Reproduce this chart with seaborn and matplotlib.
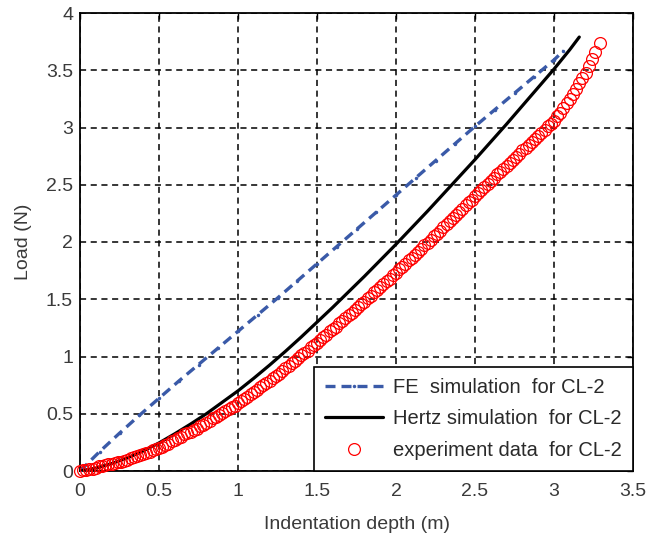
import matplotlib
matplotlib.use("Agg")
import matplotlib.pyplot as plt
import pandas as pd
import seaborn as sns

# FE simulation (load vs. indentation depth)
depth_fe = [0, 0.125, 0.25, 0.375, 0.5, 0.625, 0.75, 0.875, 1.0, 1.125, 1.25, 1.375,
            1.5, 1.625, 1.75, 1.875, 2.0, 2.125, 2.25, 2.375, 2.5, 2.625, 2.75, 2.875,
            3.0, 3.06]
load_fe = [0, 0.17, 0.33, 0.485, 0.635, 0.785, 0.93, 1.075, 1.22, 1.365, 1.51, 1.66,
           1.81, 1.96, 2.11, 2.26, 2.41, 2.56, 2.71, 2.86, 3.01, 3.155, 3.30, 3.445,
           3.59, 3.67]

# Hertz contact solution
depth_hertz = [0, 0.1, 0.2, 0.3, 0.4, 0.5, 0.6, 0.7, 0.8, 0.9, 1.0, 1.1, 1.2, 1.3, 1.4,
               1.5, 1.6, 1.7, 1.8, 1.9, 2.0, 2.1, 2.2, 2.3, 2.4, 2.5, 2.6, 2.7, 2.8, 2.9,
               3.0, 3.1, 3.16]
load_hertz = [0, 0.025, 0.065, 0.115, 0.175, 0.245, 0.325, 0.41, 0.50, 0.60, 0.70, 0.81,
              0.925, 1.045, 1.17, 1.30, 1.43, 1.565, 1.70, 1.84, 1.98, 2.125, 2.27, 2.42,
              2.57, 2.72, 2.875, 3.03, 3.19, 3.35, 3.51, 3.68, 3.79]

# Measured indentation curve
depth_exp = [0.00, 0.02, 0.04, 0.06, 0.08, 0.10, 0.12, 0.14, 0.16, 0.18, 0.20, 0.22,
             0.24, 0.26, 0.28, 0.30, 0.32, 0.34, 0.36, 0.38, 0.40, 0.42, 0.44, 0.46,
             0.48, 0.50, 0.52, 0.54, 0.56, 0.58, 0.60, 0.62, 0.64, 0.66, 0.68, 0.70,
             0.72, 0.74, 0.76, 0.78, 0.80, 0.82, 0.84, 0.86, 0.88, 0.90, 0.92, 0.94,
             0.96, 0.98, 1.00, 1.02, 1.04, 1.06, 1.08, 1.10, 1.12, 1.14, 1.16, 1.18,
             1.20, 1.22, 1.24, 1.26, 1.28, 1.30, 1.32, 1.34, 1.36, 1.38, 1.40, 1.42,
             1.44, 1.46, 1.48, 1.50, 1.52, 1.54, 1.56, 1.58, 1.60, 1.62, 1.64, 1.66,
             1.68, 1.70, 1.72, 1.74, 1.76, 1.78, 1.80, 1.82, 1.84, 1.86, 1.88, 1.90,
             1.92, 1.94, 1.96, 1.98, 2.00, 2.02, 2.04, 2.06, 2.08, 2.10, 2.12, 2.14,
             2.16, 2.18, 2.20, 2.22, 2.24, 2.26, 2.28, 2.30, 2.32, 2.34, 2.36, 2.38,
             2.40, 2.42, 2.44, 2.46, 2.48, 2.50, 2.52, 2.54, 2.56, 2.58, 2.60, 2.62,
             2.64, 2.66, 2.68, 2.70, 2.72, 2.74, 2.76, 2.78, 2.80, 2.82, 2.84, 2.86,
             2.88, 2.90, 2.92, 2.94, 2.96, 2.98, 3.00, 3.02, 3.04, 3.06, 3.08, 3.10,
             3.12, 3.14, 3.16, 3.18, 3.20, 3.22, 3.24, 3.26, 3.29]
load_exp = [0.00, 0.01, 0.01, 0.02, 0.02, 0.03, 0.04, 0.04, 0.05, 0.06, 0.06, 0.07,
            0.08, 0.08, 0.09, 0.10, 0.11, 0.12, 0.13, 0.14, 0.15, 0.16, 0.17, 0.18,
            0.19, 0.20, 0.21, 0.23, 0.24, 0.26, 0.27, 0.29, 0.30, 0.32, 0.33, 0.34,
            0.36, 0.37, 0.39, 0.40, 0.42, 0.44, 0.46, 0.47, 0.49, 0.51, 0.52, 0.54,
            0.56, 0.57, 0.59, 0.61, 0.63, 0.65, 0.67, 0.69, 0.71, 0.73, 0.75, 0.77,
            0.79, 0.81, 0.83, 0.85, 0.87, 0.90, 0.92, 0.94, 0.96, 0.99, 1.01, 1.03,
            1.05, 1.08, 1.10, 1.12, 1.14, 1.17, 1.19, 1.22, 1.24, 1.26, 1.29, 1.31,
            1.34, 1.36, 1.38, 1.41, 1.43, 1.46, 1.48, 1.51, 1.53, 1.56, 1.58, 1.61,
            1.63, 1.66, 1.68, 1.71, 1.73, 1.76, 1.78, 1.81, 1.84, 1.86, 1.89, 1.91,
            1.94, 1.97, 1.99, 2.02, 2.05, 2.07, 2.10, 2.13, 2.16, 2.18, 2.21, 2.24,
            2.26, 2.29, 2.32, 2.35, 2.37, 2.40, 2.43, 2.45, 2.48, 2.51, 2.53, 2.56,
            2.59, 2.61, 2.64, 2.66, 2.69, 2.72, 2.74, 2.77, 2.80, 2.82, 2.85, 2.87,
            2.90, 2.93, 2.95, 2.98, 3.01, 3.03, 3.06, 3.10, 3.13, 3.17, 3.21, 3.25,
            3.29, 3.34, 3.39, 3.43, 3.48, 3.54, 3.60, 3.66, 3.74]

x_ticks = [0, 0.5, 1, 1.5, 2, 2.5, 3, 3.5]
x_tick_labels = ["0", "0.5", "1", "1.5", "2", "2.5", "3", "3.5"]
y_ticks = [0, 0.5, 1, 1.5, 2, 2.5, 3, 3.5, 4]
y_tick_labels = ["0", "0.5", "1", "1.5", "2", "2.5", "3", "3.5", "4"]

fe = pd.DataFrame({"depth": depth_fe, "load": load_fe})
hertz = pd.DataFrame({"depth": depth_hertz, "load": load_hertz})
exp = pd.DataFrame({"depth": depth_exp, "load": load_exp})

sns.set_style("white")
plt.rcParams["font.family"] = ["Liberation Sans", "DejaVu Sans"]
plt.rcParams["axes.linewidth"] = 1.3
plt.rcParams["xtick.direction"] = "in"
plt.rcParams["ytick.direction"] = "in"

fig = plt.figure(figsize=(6.48, 5.36), dpi=100)
ax = fig.add_axes([80 / 648, 1 - 471 / 536, 553 / 648, 458 / 536])

sns.lineplot(data=fe, x="depth", y="load", ax=ax, color="#3a5aa8", lw=2.4,
             linestyle=(0, (3, 1.8)), marker=".", markersize=5, markeredgewidth=0,
             sort=False, estimator=None, label="FE  simulation  for CL-2", zorder=3)
sns.lineplot(data=hertz, x="depth", y="load", ax=ax, color="black", lw=2.3,
             sort=False, estimator=None, label="Hertz simulation  for CL-2", zorder=4)
sns.lineplot(data=exp, x="depth", y="load", ax=ax, linestyle="none", marker="o",
             markersize=8.5, markerfacecolor="none", markeredgecolor="#ff0000",
             markeredgewidth=0.9, color="#ff0000", sort=False, estimator=None,
             label="experiment data  for CL-2", zorder=5, clip_on=False)

ax.set_xlim(0, 3.5)
ax.set_ylim(0, 4)
ax.set_xticks(x_ticks)
ax.set_xticklabels(x_tick_labels)
ax.set_yticks(y_ticks)
ax.set_yticklabels(y_tick_labels)
ax.tick_params(axis="both", which="both", labelsize=14, colors="black",
               labelcolor="#3a3a3a", length=4, width=1, top=True, right=True)
ax.tick_params(axis="x", pad=9)
ax.tick_params(axis="y", pad=5)

ax.grid(True, color="black", linestyle=(0, (4, 3)), linewidth=1.1)
ax.set_axisbelow(True)
for s in ax.spines.values():
    s.set_color("black")
    s.set_linewidth(1.3)

ax.set_xlabel("Indentation depth (m)", fontsize=14, color="#3a3a3a", labelpad=11)
ax.set_ylabel("Load (N)", fontsize=14, color="#3a3a3a", labelpad=10)

leg = ax.legend(loc="lower right", borderaxespad=0, fontsize=14.5, frameon=True,
                fancybox=False, edgecolor="black", framealpha=1, handlelength=2.9,
                handletextpad=0.5, borderpad=0.55, labelspacing=0.62, numpoints=1)
leg.get_frame().set_linewidth(1.2)
leg.set_zorder(10)
for t in leg.get_texts():
    t.set_color("#2a2a2a")

fig.savefig("out.png", dpi=100)
